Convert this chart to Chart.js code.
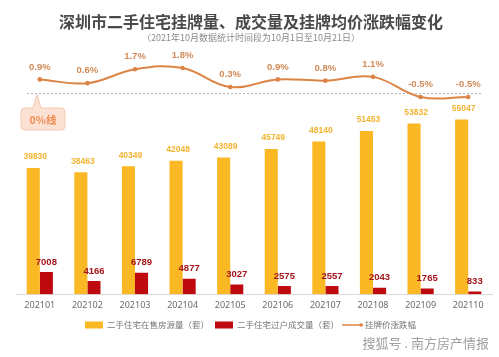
<!DOCTYPE html>
<html><head><meta charset="utf-8">
<script src="https://cdn.jsdelivr.net/npm/chart.js@4/dist/chart.umd.min.js"></script>
<style>html,body{margin:0;padding:0;background:#fff;}#c{display:block;}</style>
</head><body>
<canvas id="c" width="499" height="357"></canvas>
<script>
const categories = ['202101','202102','202103','202104','202105','202106','202107','202108','202109','202110'];
const listings = [39830,38463,40349,42048,43089,45749,48140,51453,53832,55047];
const deals = [7008,4166,6789,4877,3027,2575,2557,2043,1765,833];
const priceChange = [0.9,0.6,1.7,1.8,0.3,0.9,0.8,1.1,-0.5,-0.5];
const titleText = '深圳市二手住宅挂牌量、成交量及挂牌均价涨跌幅变化';
const subtitleText = '（2021年10月数据统计时间段为10月1日至10月21日）';
const legendLabels = ['二手住宅在售房源量（套）','二手住宅过户成交量（套）','挂牌价涨跌幅'];
const zeroLabel = '0%线';
const sourceText = '搜狐号 . 南方房产情报';

const GOLD = '#F9B824', RED = '#BE0A0F', LINE = '#DC8445';
const CJK = '"Noto Sans CJK SC", "Noto Sans", sans-serif';
const NUM = '"Liberation Sans", Arial, sans-serif';

const deco = {
  id: 'deco',
  beforeDraw(chart) {
    const ctx = chart.ctx;
    ctx.save();
    ctx.fillStyle = '#fff';
    ctx.fillRect(0, 0, chart.width, chart.height);
    ctx.restore();
  },
  beforeDatasetsDraw(chart) {
    const ctx = chart.ctx;
    const y1 = chart.scales.y1;
    const zy = Math.round(y1.getPixelForValue(0)) + 2.5;
    ctx.save();
    ctx.strokeStyle = '#b5b5b5';
    ctx.lineWidth = 1;
    ctx.setLineDash([2, 2]);
    ctx.beginPath();
    ctx.moveTo(27, zy);
    ctx.lineTo(482, zy);
    ctx.stroke();
    ctx.setLineDash([]);
    // callout bubble
    const bx = 21, by = 108, bw = 44, bh = 22, r = 4;
    ctx.fillStyle = '#FBE2D4';
    ctx.strokeStyle = '#F4C9B1';
    ctx.beginPath();
    ctx.moveTo(bx + r, by);
    ctx.lineTo(33, by);
    ctx.lineTo(37, zy + 1);
    ctx.lineTo(41, by);
    ctx.lineTo(bx + bw - r, by);
    ctx.quadraticCurveTo(bx + bw, by, bx + bw, by + r);
    ctx.lineTo(bx + bw, by + bh - r);
    ctx.quadraticCurveTo(bx + bw, by + bh, bx + bw - r, by + bh);
    ctx.lineTo(bx + r, by + bh);
    ctx.quadraticCurveTo(bx, by + bh, bx, by + bh - r);
    ctx.lineTo(bx, by + r);
    ctx.quadraticCurveTo(bx, by, bx + r, by);
    ctx.closePath();
    ctx.fill();
    ctx.stroke();
    ctx.fillStyle = '#EE8A4F';
    ctx.font = 'bold 10.5px ' + CJK;
    ctx.textAlign = 'center';
    ctx.textBaseline = 'middle';
    ctx.fillText(zeroLabel, bx + bw / 2, by + bh / 2 + 1);
    ctx.restore();
  },
  afterDatasetsDraw(chart) {
    const ctx = chart.ctx;
    ctx.save();
    ctx.textAlign = 'center';
    ctx.textBaseline = 'middle';
    const m0 = chart.getDatasetMeta(0), m1 = chart.getDatasetMeta(1), m2 = chart.getDatasetMeta(2);
    ctx.font = 'bold 8.5px ' + NUM;
    ctx.fillStyle = '#F2B431';
    m0.data.forEach((el, i) => ctx.fillText(String(listings[i]), el.x + 2, el.y - 11));
    ctx.font = 'bold 9.5px ' + NUM;
    ctx.fillStyle = '#A5141B';
    m1.data.forEach((el, i) => ctx.fillText(String(deals[i]), el.x, el.y - 10));
    ctx.font = 'bold 9.5px ' + NUM;
    ctx.fillStyle = '#CF8A57';
    m2.data.forEach((el, i) => ctx.fillText(priceChange[i].toFixed(1) + '%', el.x, el.y - 12.5));
    ctx.restore();
  },
  afterDraw(chart) {
    const ctx = chart.ctx;
    ctx.save();
    ctx.textAlign = 'center';
    ctx.textBaseline = 'middle';
    ctx.fillStyle = '#4a4a4a';
    ctx.font = 'bold 16px ' + CJK;
    ctx.fillText(titleText, 251, 22);
    ctx.fillStyle = '#8a8a8a';
    ctx.font = '9px ' + CJK;
    ctx.fillText(subtitleText, 251, 38);
    // legend
    ctx.textAlign = 'left';
    ctx.font = '8.5px ' + CJK;
    const ly = 325;
    ctx.fillStyle = GOLD;
    ctx.fillRect(85, ly - 3.5, 18, 7);
    ctx.fillStyle = '#777';
    ctx.fillText(legendLabels[0], 107, ly);
    ctx.fillStyle = RED;
    ctx.fillRect(215, ly - 3.5, 18, 7);
    ctx.fillStyle = '#777';
    ctx.fillText(legendLabels[1], 237, ly);
    ctx.strokeStyle = LINE;
    ctx.lineWidth = 1.5;
    ctx.beginPath();
    ctx.moveTo(342, ly);
    ctx.lineTo(363, ly);
    ctx.stroke();
    ctx.fillStyle = LINE;
    ctx.beginPath();
    ctx.arc(361, ly, 1.8, 0, Math.PI * 2);
    ctx.fill();
    ctx.fillStyle = '#777';
    ctx.fillText(legendLabels[2], 365, ly);
    // source
    ctx.textAlign = 'right';
    ctx.fillStyle = '#a0a0a0';
    ctx.font = '13px ' + CJK;
    ctx.fillText(sourceText, 489, 343);
    ctx.restore();
  }
};

new Chart(document.getElementById('c'), {
  data: {
    labels: categories,
    datasets: [
      { type: 'bar', label: legendLabels[0], data: listings, backgroundColor: GOLD, yAxisID: 'y', order: 2,
        categoryPercentage: 0.55, barPercentage: 1.0 },
      { type: 'bar', label: legendLabels[1], data: deals, backgroundColor: RED, yAxisID: 'y', order: 2,
        categoryPercentage: 0.55, barPercentage: 1.0 },
      { type: 'line', label: legendLabels[2], data: priceChange, borderColor: LINE, backgroundColor: LINE,
        borderWidth: 2, pointRadius: 2.3, pointBackgroundColor: LINE, pointBorderWidth: 0, tension: 0.4,
        yAxisID: 'y1', order: 1 }
    ]
  },
  options: {
    responsive: false,
    animation: false,
    devicePixelRatio: 1,
    layout: { padding: { left: 16, right: 7, top: 50, bottom: 40 } },
    plugins: { legend: { display: false }, tooltip: { enabled: false }, title: { display: false } },
    scales: {
      x: {
        offset: true,
        grid: { display: false, drawTicks: false },
        border: { display: true, color: '#d9d9d9', width: 1 },
        ticks: { color: '#6a6a6a', font: { size: 9, family: '"Noto Sans", sans-serif' }, padding: 6, maxRotation: 0 }
      },
      y: { display: false, min: 0, max: 77000 },
      y1: { display: false, min: -16.13, max: 3.23 }
    }
  },
  plugins: [deco]
});
</script>
</body></html>
